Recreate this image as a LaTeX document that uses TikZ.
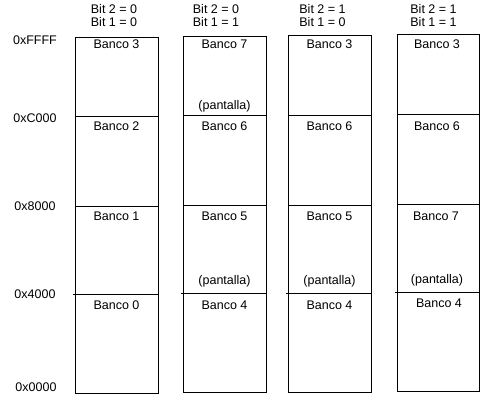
\documentclass[tikz,border=0pt]{standalone}
\usepackage{fontspec}
\setmainfont{Liberation Sans}
\begin{document}
\begin{tikzpicture}[x=1pt,y=-1pt,
  lbl/.style={inner sep=0pt,font=\fontsize{12.5}{14}\selectfont},
  mem/.style={draw,line width=0.9pt},
  sep/.style={line width=0.9pt}]
\useasboundingbox (0,0) rectangle (500,400);
% column 1
\draw[mem] (75,37) rectangle (158,393);
\draw[sep] (75,116) -- (158,116);
\draw[sep] (75,206) -- (158,206);
\draw[sep] (73,294) -- (158,294);
% column 2
\draw[mem] (183,36) rectangle (266,392);
\draw[sep] (183,115) -- (266,115);
\draw[sep] (183,205) -- (266,205);
\draw[sep] (181,293) -- (266,293);
% column 3
\draw[mem] (288,35) rectangle (371,392);
\draw[sep] (288,115) -- (371,115);
\draw[sep] (288,205) -- (371,205);
\draw[sep] (286,293) -- (371,293);
% column 4
\draw[mem] (397,34) rectangle (479,391);
\draw[sep] (397,114) -- (479,114);
\draw[sep] (397,204) -- (479,204);
\draw[sep] (395,292) -- (479,292);
% headers
\node[lbl] (h1a) at (114,9) {Bit 2 = 0};
\node[lbl] (h1b) at (114,22) {Bit 1 = 0};
\node[lbl] (h2a) at (216,9) {Bit 2 = 0};
\node[lbl] (h2b) at (216,22) {Bit 1 = 1};
\node[lbl] (h3a) at (322.5,9) {Bit 2 = 1};
\node[lbl] (h3b) at (322.5,22) {Bit 1 = 0};
\node[lbl] (h4a) at (433.5,9) {Bit 2 = 1};
\node[lbl] (h4b) at (433.5,22) {Bit 1 = 1};
% addresses
\node[lbl] (aFFFF) at (35,40) {0xFFFF};
\node[lbl] (aC000) at (35,118) {0xC000};
\node[lbl] (a8000) at (35,206) {0x8000};
\node[lbl] (a4000) at (35,294) {0x4000};
\node[lbl] (a0000) at (36,387) {0x0000};
% column 1 labels
\node[lbl] (c1b3) at (116.5,44) {Banco 3};
\node[lbl] (c1b2) at (116.5,126) {Banco 2};
\node[lbl] (c1b1) at (116.5,216) {Banco 1};
\node[lbl] (c1b0) at (116.5,305) {Banco 0};
% column 2 labels
\node[lbl] (c2b7) at (224.5,44) {Banco 7};
\node[lbl] (c2p1) at (224.5,106) {(pantalla)};
\node[lbl] (c2b6) at (224.5,126) {Banco 6};
\node[lbl] (c2b5) at (224.5,216) {Banco 5};
\node[lbl] (c2p2) at (224.5,281) {(pantalla)};
\node[lbl] (c2b4) at (224.5,305) {Banco 4};
% column 3 labels
\node[lbl] (c3b3) at (329.5,44) {Banco 3};
\node[lbl] (c3b6) at (329.5,126) {Banco 6};
\node[lbl] (c3b5) at (329.5,216) {Banco 5};
\node[lbl] (c3p) at (329.5,281) {(pantalla)};
\node[lbl] (c3b4) at (329.5,305) {Banco 4};
% column 4 labels
\node[lbl] (c4b3) at (437,44) {Banco 3};
\node[lbl] (c4b6) at (437,126) {Banco 6};
\node[lbl] (c4b7) at (436,216) {Banco 7};
\node[lbl] (c4p) at (437,280) {(pantalla)};
\node[lbl] (c4b4) at (439,303) {Banco 4};
\end{tikzpicture}
\end{document}
